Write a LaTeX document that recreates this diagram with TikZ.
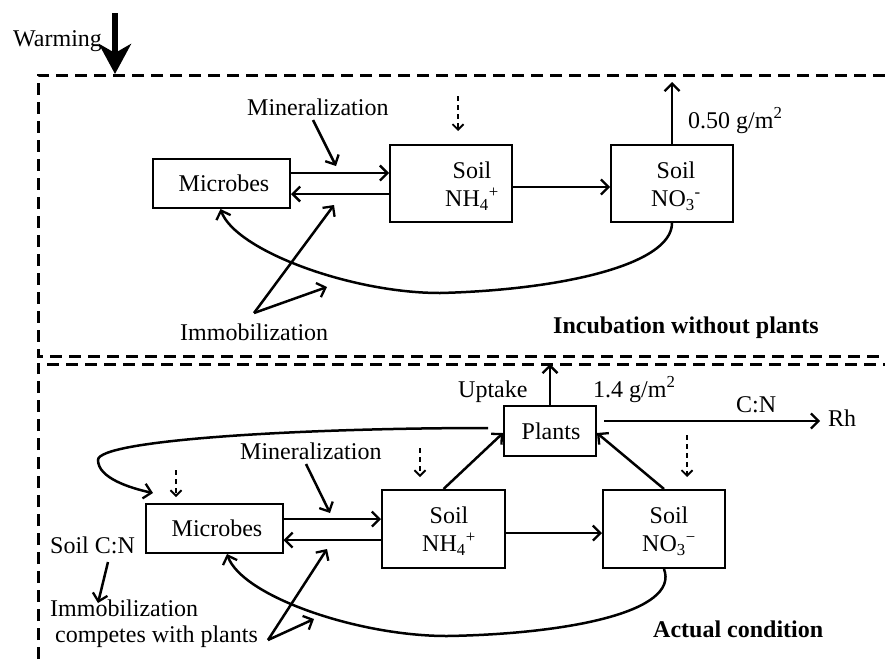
\documentclass[tikz,border=0pt]{standalone}
\usepackage{fontspec}
\setmainfont{Liberation Serif}
\usetikzlibrary{arrows.meta,calc}
\begin{document}
\begin{tikzpicture}[x=1pt,y=-1pt,
  every node/.style={font=\fontsize{24}{28}\selectfont},
  box/.style={draw,line width=2pt,inner sep=0pt},
  inbox/.style={inner sep=0pt,align=center,font=\fontsize{24}{28}\selectfont},
  conn/.style={line width=2.5pt,-{Straight Barb[length=7.5pt,width=15pt,line width=2.3pt]}},
  dashbox/.style={line width=3pt,dash pattern=on 12pt off 7pt},
  hint/.style={line width=1.8pt,dash pattern=on 5pt off 4pt,-{Straight Barb[length=5.5pt,width=11pt,line width=1.8pt]}},
  txt/.style={inner sep=0pt},
  boldtxt/.style={inner sep=0pt,font=\fontsize{24}{28}\selectfont\bfseries}]
\useasboundingbox (0,0) rectangle (885,659);

% frames
\draw[dashbox] (885,75) -- (38,75) -- (38,356) -- (885,356);
\draw[dashbox] (38,659) -- (38,364) -- (885,364);

% ---------- top panel ----------
\node[txt,anchor=base west] (warm) at (13,46) {Warming};
\coordinate (warmtop) at (115,13);
\coordinate (warmtip) at (115,74);
\draw[line width=5.5pt,-{Stealth[length=30pt,width=32pt,inset=9pt]}] (warmtop) -- (warmtip);

\node[box,minimum width=137pt,minimum height=49pt] (mic1) at (221.5,183.5) {};
\node[inbox] (mic1t) at (224,183.5) {Microbes};
\node[box,minimum width=122pt,minimum height=77pt] (nh41) at (451,183.5) {};
\node[inbox] (nh41t) at (472,186) {Soil\\NH\textsubscript{4}\textsuperscript{+}};
\node[box,minimum width=122pt,minimum height=77pt] (no31) at (672,183.5) {};
\node[inbox] (no31t) at (676,186) {Soil\\NO\textsubscript{3}\textsuperscript{-}};

\draw[conn] ([yshift=10.5pt]mic1.east) -- ([yshift=10.5pt]mic1.east -| nh41.west);
\draw[conn] ([yshift=-10.5pt]mic1.east -| nh41.west) -- ([yshift=-10.5pt]mic1.east);
\draw[conn] ([yshift=-3.5pt]nh41.east) -- ([yshift=-3.5pt]nh41.east -| no31.west);

\node[txt,anchor=base west] (min1) at (247,115) {Mineralization};
\coordinate (min1tip) at (336,166);
\draw[conn] (313,120) -- (min1tip);

\coordinate (h1a) at (458,96);
\coordinate (h1b) at (458,131);
\draw[hint] (h1a) -- (h1b);

\coordinate (out1) at (672,82);
\draw[conn] (no31.north) -- (out1);
\node[txt,anchor=base west] (flux1) at (688,128) {0.50 g/m\textsuperscript{2}};

\draw[conn] (no31.south) .. controls (672,265) and (560,290) .. (440,293)
  .. controls (350,293) and (235,250) .. ([xshift=-1pt]mic1.south);

\node[txt,anchor=base west] (imm1) at (180,340) {Immobilization};
\coordinate (imm1src) at (254,313);
\coordinate (imm1a) at (334,205);
\coordinate (imm1b) at (327,287);
\draw[conn] (imm1src) -- (imm1a);
\draw[conn] (imm1src) -- (imm1b);

\node[boldtxt,anchor=base west] (inc) at (553,333) {Incubation without plants};

% ---------- bottom panel ----------
\node[box,minimum width=92pt,minimum height=50pt] (plants) at (550,431) {};
\node[inbox] (plantst) at (551,431) {Plants};
\node[box,minimum width=137pt,minimum height=49pt] (mic2) at (214,528.5) {};
\node[inbox] (mic2t) at (217,528.5) {Microbes};
\node[box,minimum width=123pt,minimum height=78pt] (nh42) at (443.5,529) {};
\node[inbox] (nh42t) at (449,531) {Soil\\NH\textsubscript{4}\textsuperscript{+}};
\node[box,minimum width=122pt,minimum height=78pt] (no32) at (664,529) {};
\node[inbox] (no32t) at (669,531) {Soil\\NO\textsubscript{3}\textsuperscript{−}};

\draw[conn] ([yshift=9.5pt]mic2.east) -- ([yshift=9.5pt]mic2.east -| nh42.west);
\draw[conn] ([yshift=-11.5pt]mic2.east -| nh42.west) -- ([yshift=-11.5pt]mic2.east);
\draw[conn] ([yshift=-4pt]nh42.east) -- ([yshift=-4pt]nh42.east -| no32.west);
\draw[conn] (nh42.north) -- ([yshift=-2pt]plants.west);
\draw[conn] (no32.north) -- ([yshift=-2pt]plants.east);

\coordinate (out2) at (550,364);
\draw[conn] (plants.north) -- (out2);
\node[txt,anchor=base west] (uptake) at (458,397) {Uptake};
\node[txt,anchor=base west] (flux2) at (593,397) {1.4 g/m\textsuperscript{2}};

\coordinate (rhstart) at (604,421);
\coordinate (rhend) at (820,421);
\draw[conn] (rhstart) -- (rhend);
\node[txt,anchor=base west] (cn) at (736,412) {C:N};
\node[txt,anchor=base west] (rh) at (828,426) {Rh};

\coordinate (h2a) at (687,435);
\coordinate (h2b) at (687,477);
\draw[hint] (h2a) -- (h2b);
\coordinate (h3a) at (420,448);
\coordinate (h3b) at (420,477);
\draw[hint] (h3a) -- (h3b);
\coordinate (h4a) at (176,470);
\coordinate (h4b) at (176,497);
\draw[hint] (h4a) -- (h4b);

\coordinate (loopstart) at (488,428);
\coordinate (looptip) at (153,493);
\draw[conn] (loopstart) .. controls (300,428) and (98,440) .. (98,460)
  .. controls (98,478) and (130,488) .. (looptip);

\node[txt,anchor=base west] (min2) at (240,459) {Mineralization};
\coordinate (min2tip) at (330,513);
\draw[conn] (306,464) -- (min2tip);

\draw[conn] (no32.south) .. controls (680,612) and (567,634) .. (447,636)
  .. controls (357,636) and (242,596) .. ([xshift=13pt]mic2.south);

\node[txt,anchor=base west] (soilcn) at (50,553) {Soil C:N};
\node[txt,anchor=base west] (imm2) at (50,616) {Immobilization};
\node[txt,anchor=base west] (comp) at (55,642) {competes with plants};
\coordinate (cnsrc) at (108,562);
\coordinate (cntip) at (98,603);
\draw[conn] (cnsrc) -- (cntip);

\coordinate (imm2src) at (268,640);
\coordinate (imm2a) at (327,549);
\coordinate (imm2b) at (314,619);
\draw[conn] (imm2src) -- (imm2a);
\draw[conn] (imm2src) -- (imm2b);

\node[boldtxt,anchor=base west] (actual) at (653,637) {Actual condition};
\end{tikzpicture}
\end{document}
